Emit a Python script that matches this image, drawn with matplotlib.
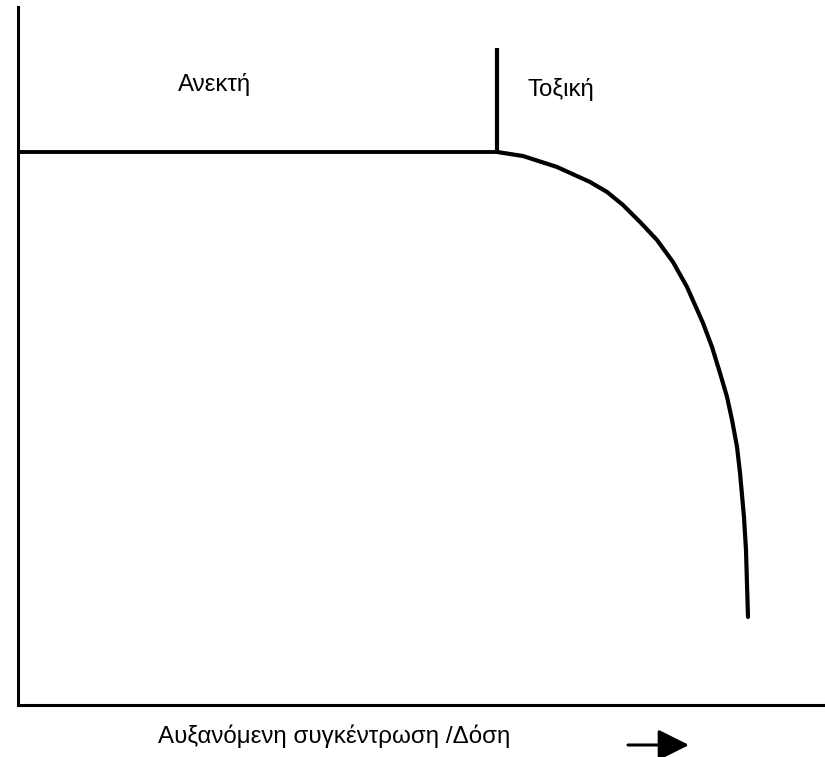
import matplotlib
matplotlib.use('agg')
import matplotlib.pyplot as plt
from matplotlib.patches import FancyArrowPatch

# Δεδομένα (αυθαίρετες μονάδες: δόση 0-100, απόκριση 0-100)
plateau_x = [0, 59.4]
plateau_y = [79.2, 79.2]
orio_x = 59.4
orio_y = [79.2, 94.1]
kampyli_x = [59.36, 62.58, 66.79, 70.88, 72.99, 74.97, 77.08, 79.18, 81.16,
             82.90, 84.88, 86.00, 86.99, 87.86, 88.48, 89.10, 89.47, 89.96,
             90.21, 90.33, 90.46]
kampyli_y = [79.23, 78.65, 77.08, 74.93, 73.50, 71.63, 69.20, 66.62, 63.47,
             59.89, 54.73, 51.29, 47.56, 44.13, 40.83, 36.96, 33.24, 26.93,
             22.21, 17.48, 12.61]

zoni_anektis = 'Ανεκτή'
zoni_toxikis = 'Τοξική'
etiketa_x = 'Αυξανόμενη συγκέντρωση /Δόση'

plt.rcParams['font.family'] = ['Liberation Sans', 'DejaVu Sans']

fig = plt.figure(figsize=(8.25, 7.57), dpi=100)
ax = fig.add_axes([18 / 825, 52 / 757, 807 / 825, 698 / 757])
ax.set_xlim(0, 100)
ax.set_ylim(0, 100)

ax.plot(plateau_x, plateau_y, color='black', lw=2.8, solid_capstyle='butt')
ax.plot([orio_x, orio_x], orio_y, color='black', lw=3.0, solid_capstyle='butt')
ax.plot(kampyli_x, kampyli_y, color='black', lw=3.0,
        solid_capstyle='round', solid_joinstyle='round')

# άξονες: μόνο αριστερά και κάτω
for s in ['top', 'right']:
    ax.spines[s].set_visible(False)
for s in ['left', 'bottom']:
    ax.spines[s].set_linewidth(2.2)
ax.set_xticks([])
ax.set_yticks([])

fig.text(178 / 825, (757 - 91) / 757, zoni_anektis, fontsize=17.3, va='baseline', ha='left')
fig.text(527 / 825, (757 - 96) / 757, zoni_toxikis, fontsize=17.3, va='baseline', ha='left')
fig.text(158 / 825, (757 - 743) / 757, etiketa_x, fontsize=17.4, va='baseline', ha='left')

# βέλος αύξησης δόσης
fig.patches.append(FancyArrowPatch(
    (628 / 825, (757 - 745) / 757), (689 / 825, (757 - 745) / 757),
    transform=fig.transFigure, arrowstyle='-|>,head_length=1.9,head_width=0.95',
    mutation_scale=10, shrinkA=0, shrinkB=0, color='black', lw=2.2))

plt.savefig('out.png', dpi=100)
plt.close()
